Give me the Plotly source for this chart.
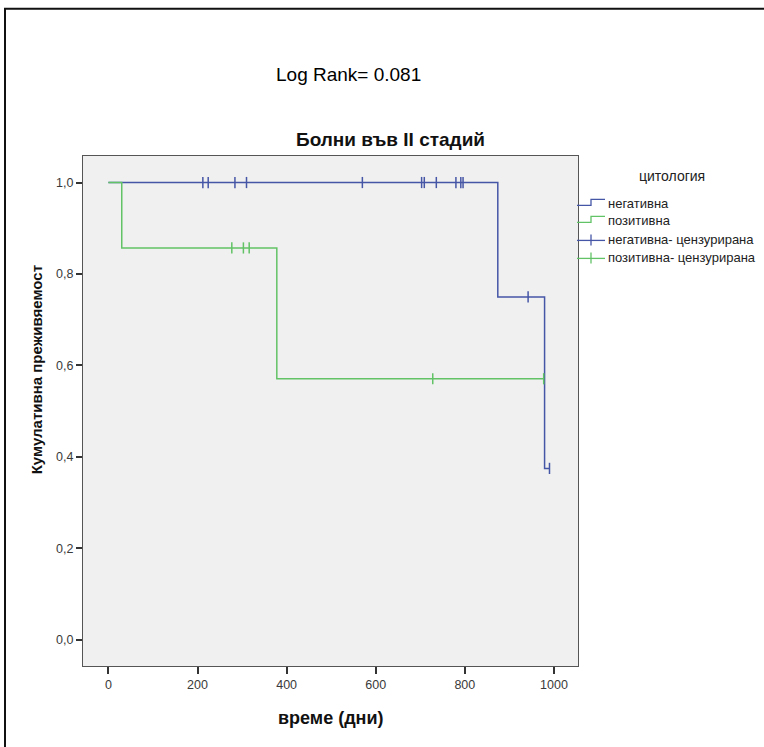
import plotly.graph_objects as go

# Kaplan-Meier steps (days, cumulative survival) per cytology group
neg_step_days = [0, 874, 979, 990]
neg_step_surv = [1.0, 0.75, 0.375, 0.375]
pos_step_days = [0, 30, 378, 977]
pos_step_surv = [1.0, 0.857, 0.571, 0.571]

# censored observations
neg_cens_days = [212, 224, 284, 310, 570, 703, 709, 736, 780, 791, 796, 942, 990]
neg_cens_surv = [1.0, 1.0, 1.0, 1.0, 1.0, 1.0, 1.0, 1.0, 1.0, 1.0, 1.0, 0.75, 0.375]
pos_cens_days = [277, 303, 316, 728, 977]
pos_cens_surv = [0.857, 0.857, 0.857, 0.571, 0.571]

legend_labels = ["негативна", "позитивна", "негативна- цензурирана", "позитивна- цензурирана"]
y_ticks = [0.0, 0.2, 0.4, 0.6, 0.8, 1.0]
x_ticks = [0, 200, 400, 600, 800, 1000]

BLUE = "#4656a6"
GREEN = "#62c266"
FONT = "Liberation Sans, Arial, sans-serif"

W, H = 764, 747
PL, PR, PT, PB = 83, 578, 155.5, 666  # plot box in pixels


def px(x):
    return (x - PL) / (PR - PL)


def py(y):
    return (PB - y) / (PB - PT)


fig = go.Figure()
fig.add_trace(go.Scatter(x=neg_step_days, y=neg_step_surv, mode="lines",
                         line=dict(color=BLUE, width=1.5, shape="hv"),
                         name=legend_labels[0], showlegend=False))
fig.add_trace(go.Scatter(x=pos_step_days, y=pos_step_surv, mode="lines",
                         line=dict(color=GREEN, width=1.5, shape="hv"),
                         name=legend_labels[1], showlegend=False))
fig.add_trace(go.Scatter(x=neg_cens_days, y=neg_cens_surv, mode="markers",
                         marker=dict(symbol="line-ns", size=8,
                                     line=dict(color=BLUE, width=1.5)),
                         name=legend_labels[2], showlegend=False))
fig.add_trace(go.Scatter(x=pos_cens_days, y=pos_cens_surv, mode="markers",
                         marker=dict(symbol="line-ns", size=8,
                                     line=dict(color=GREEN, width=1.5)),
                         name=legend_labels[3], showlegend=False))

shapes = []
# outer frame (left and top edges)
shapes.append(dict(type="path", xref="paper", yref="paper",
                   path=f"M {px(5)} {py(760)} L {px(5)} {py(8)} L {px(770)} {py(8)}",
                   line=dict(color="#111111", width=2)))

# hand-drawn legend keys
leg_y = [203, 220, 239, 257]
for i, (yc, col) in enumerate(zip(leg_y, [BLUE, GREEN, BLUE, GREEN])):
    if i < 2:
        path = (f"M {px(577)} {py(yc + 2)} L {px(591)} {py(yc + 2)} "
                f"L {px(591)} {py(yc - 4)} L {px(605)} {py(yc - 4)}")
        shapes.append(dict(type="path", xref="paper", yref="paper", path=path,
                           line=dict(color=col, width=1.3)))
    else:
        shapes.append(dict(type="line", xref="paper", yref="paper",
                           x0=px(577), x1=px(605), y0=py(yc + 1), y1=py(yc + 1),
                           line=dict(color=col, width=1.3)))
        shapes.append(dict(type="line", xref="paper", yref="paper",
                           x0=px(591), x1=px(591), y0=py(yc - 5), y1=py(yc + 6),
                           line=dict(color=col, width=1.3)))

annotations = [
    dict(text="Log Rank= 0.081", x=px(348), y=py(74), xref="paper", yref="paper",
         showarrow=False, font=dict(family=FONT, size=19, color="#000000"),
         xanchor="center", yanchor="middle"),
    dict(text="<b>Болни във II стадий</b>", x=px(390), y=py(139), xref="paper", yref="paper",
         showarrow=False, font=dict(family=FONT, size=19, color="#111111"),
         xanchor="center", yanchor="middle"),
    dict(text="<b>Кумулативна преживяемост</b>", x=px(36), y=py(370), xref="paper", yref="paper",
         showarrow=False, textangle=-90, font=dict(family=FONT, size=15, color="#111111"),
         xanchor="center", yanchor="middle"),
    dict(text="<b>време (дни)</b>", x=px(331), y=py(718), xref="paper", yref="paper",
         showarrow=False, font=dict(family=FONT, size=18, color="#111111"),
         xanchor="center", yanchor="middle"),
    dict(text="цитология", x=px(672), y=py(176), xref="paper", yref="paper",
         showarrow=False, font=dict(family=FONT, size=14, color="#222222"),
         xanchor="center", yanchor="middle"),
]
for lab, yc in zip(legend_labels, leg_y):
    annotations.append(dict(text=lab, x=px(606), y=py(yc), xref="paper", yref="paper",
                            showarrow=False, font=dict(family=FONT, size=13, color="#222222"),
                            xanchor="left", yanchor="middle"))

fig.update_layout(
    width=W, height=H,
    margin=dict(l=PL, r=W - PR, t=PT, b=H - PB),
    paper_bgcolor="white",
    plot_bgcolor="#f0f0f0",
    separators=",.",
    showlegend=False,
    font=dict(family=FONT, size=12, color="#333333"),
    shapes=shapes,
    annotations=annotations,
    xaxis=dict(range=[-57, 1054], tickvals=x_ticks, tickformat="d",
               showgrid=False, zeroline=False,
               showline=True, linecolor="#555555", linewidth=1, mirror=True,
               ticks="outside", ticklen=7, tickcolor="#333333", tickwidth=1.5,
               tickfont=dict(family=FONT, size=12.5, color="#3a3a3a")),
    yaxis=dict(range=[-0.057, 1.058], tickvals=y_ticks, tickformat=".1f",
               showgrid=False, zeroline=False,
               showline=True, linecolor="#555555", linewidth=1, mirror=True,
               ticks="outside", ticklen=6, tickcolor="#333333", tickwidth=1.5,
               tickfont=dict(family=FONT, size=12.5, color="#3a3a3a")),
)

fig.write_html("out.html")
